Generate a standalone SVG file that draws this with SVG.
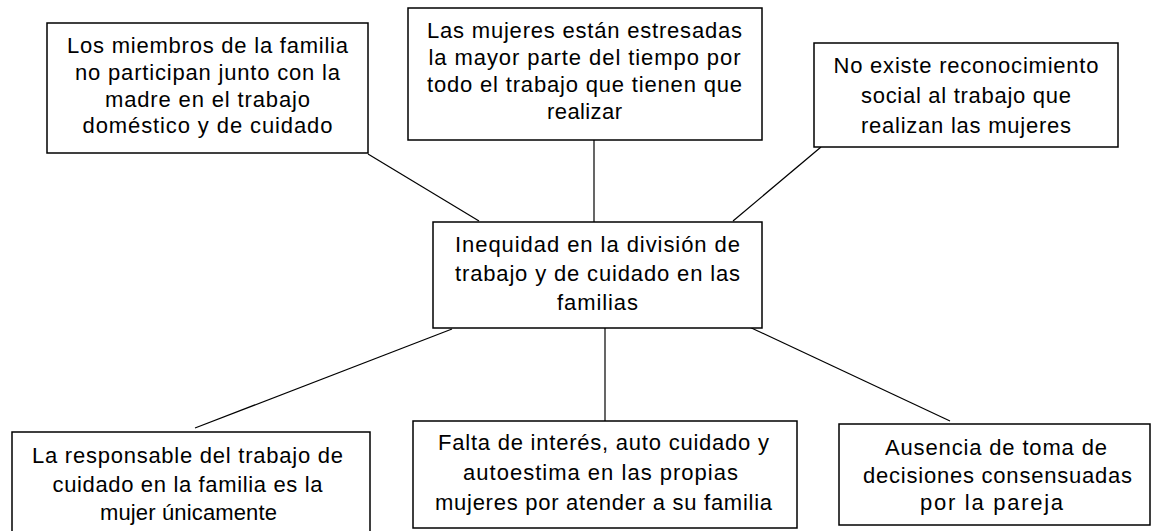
<svg xmlns="http://www.w3.org/2000/svg" width="1151" height="531" viewBox="0 0 1151 531">
<style>
.box{fill:#ffffff;stroke:#000000;stroke-width:1.5}
.t{font-family:"Liberation Sans",Arial,sans-serif;font-size:22px;fill:#000000;text-anchor:middle}
.c{stroke:#000000;stroke-width:1.2;fill:none}
</style>
<rect width="1151" height="531" fill="#ffffff"/>
<g id="connectors">
<line class="c" x1="368" y1="154" x2="479" y2="221"/>
<line class="c" x1="594" y1="140" x2="594" y2="222"/>
<line class="c" x1="821" y1="147" x2="733" y2="221"/>
<line class="c" x1="452" y1="329" x2="195" y2="428"/>
<line class="c" x1="605" y1="328" x2="605" y2="421"/>
<line class="c" x1="745" y1="325" x2="950" y2="421"/>
</g>
<g id="n1">
<rect class="box" x="47" y="23" width="321" height="130"/>
<text class="t" x="207.5" y="53" textLength="281" lengthAdjust="spacing">Los miembros de la familia</text>
<text class="t" x="207.5" y="80" textLength="265" lengthAdjust="spacing">no participan junto con la</text>
<text class="t" x="207.5" y="107" textLength="205" lengthAdjust="spacing">madre en el trabajo</text>
<text class="t" x="207.5" y="133" textLength="250" lengthAdjust="spacing">doméstico y de cuidado</text>
</g>
<g id="n2">
<rect class="box" x="408" y="8" width="354" height="132"/>
<text class="t" x="584.5" y="38" textLength="315" lengthAdjust="spacing">Las mujeres están estresadas</text>
<text class="t" x="584.5" y="65" textLength="312" lengthAdjust="spacing">la mayor parte del tiempo por</text>
<text class="t" x="584.5" y="92" textLength="315" lengthAdjust="spacing">todo el trabajo que tienen que</text>
<text class="t" x="584.5" y="119" textLength="75" lengthAdjust="spacing">realizar</text>
</g>
<g id="n3">
<rect class="box" x="814" y="43" width="304" height="104"/>
<text class="t" x="966" y="73" textLength="265" lengthAdjust="spacing">No existe reconocimiento</text>
<text class="t" x="966" y="103" textLength="210" lengthAdjust="spacing">social al trabajo que</text>
<text class="t" x="966" y="133" textLength="210" lengthAdjust="spacing">realizan las mujeres</text>
</g>
<g id="center">
<rect class="box" x="433" y="222" width="329" height="106"/>
<text class="t" x="597.5" y="252" textLength="285" lengthAdjust="spacing">Inequidad en la división de</text>
<text class="t" x="597.5" y="281" textLength="285" lengthAdjust="spacing">trabajo y de cuidado en las</text>
<text class="t" x="597.5" y="310" textLength="81" lengthAdjust="spacing">familias</text>
</g>
<g id="n4">
<rect class="box" x="12" y="432" width="358" height="110"/>
<text class="t" x="187.5" y="463" textLength="311" lengthAdjust="spacing">La responsable del trabajo de</text>
<text class="t" x="187.5" y="492" textLength="270" lengthAdjust="spacing">cuidado en la familia es la</text>
<text class="t" x="188.5" y="520" textLength="177" lengthAdjust="spacing">mujer únicamente</text>
</g>
<g id="n5">
<rect class="box" x="413" y="421" width="384" height="107"/>
<text class="t" x="603.5" y="450" textLength="331" lengthAdjust="spacing">Falta de interés, auto cuidado y</text>
<text class="t" x="600.5" y="480" textLength="275" lengthAdjust="spacing">autoestima en las propias</text>
<text class="t" x="603.5" y="510" textLength="337" lengthAdjust="spacing">mujeres por atender a su familia</text>
</g>
<g id="n6">
<rect class="box" x="839" y="424" width="311" height="101"/>
<text class="t" x="996" y="455" textLength="222" lengthAdjust="spacing">Ausencia de toma de</text>
<text class="t" x="997.5" y="483" textLength="269" lengthAdjust="spacing">decisiones consensuadas</text>
<text class="t" x="991.5" y="510" textLength="143" lengthAdjust="spacing">por la pareja</text>
</g>
</svg>
